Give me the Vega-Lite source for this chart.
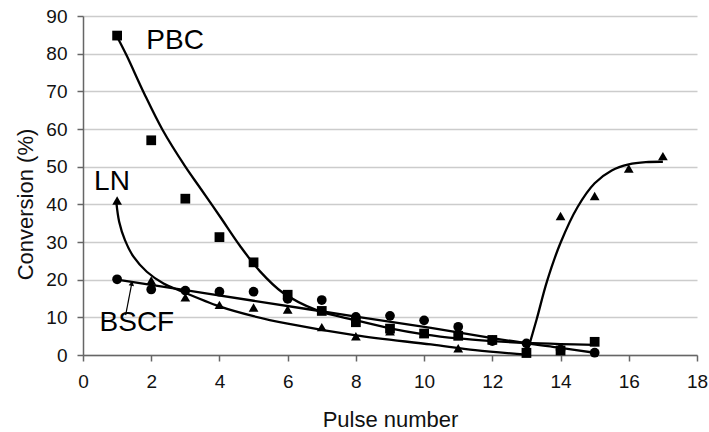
{
  "$schema": "https://vega.github.io/schema/vega-lite/v6.json",
  "width": 614,
  "height": 339,
  "autosize": "none",
  "padding": {"left": 83, "top": 16, "right": 12, "bottom": 77},
  "background": "white",
  "config": {
    "view": {"stroke": null},
    "font": "Liberation Sans"
  },
  "datasets": {
    "curves": [
      {"series": "PBC", "x": 1.0, "y": 84.5},
      {"series": "PBC", "x": 1.28, "y": 79.5},
      {"series": "PBC", "x": 1.79, "y": 69.5},
      {"series": "PBC", "x": 2.33, "y": 59.8},
      {"series": "PBC", "x": 3.0, "y": 50},
      {"series": "PBC", "x": 3.4, "y": 44.8},
      {"series": "PBC", "x": 4.02, "y": 36.7},
      {"series": "PBC", "x": 4.6, "y": 29.0},
      {"series": "PBC", "x": 5.19, "y": 22.2},
      {"series": "PBC", "x": 5.85, "y": 16.6},
      {"series": "PBC", "x": 6.85, "y": 11.9},
      {"series": "PBC", "x": 8.0, "y": 9.2},
      {"series": "PBC", "x": 9.0, "y": 7.1},
      {"series": "PBC", "x": 10.0, "y": 5.5},
      {"series": "PBC", "x": 11.0, "y": 4.4},
      {"series": "PBC", "x": 12.0, "y": 3.7},
      {"series": "PBC", "x": 13.0, "y": 3.2},
      {"series": "PBC", "x": 14.0, "y": 2.9},
      {"series": "PBC", "x": 15.0, "y": 2.7},
      {"series": "BSCF", "x": 1.0, "y": 20.0},
      {"series": "BSCF", "x": 3.0, "y": 17.2},
      {"series": "BSCF", "x": 5.0, "y": 14.4},
      {"series": "BSCF", "x": 8.0, "y": 10.2},
      {"series": "BSCF", "x": 10.2, "y": 7.2},
      {"series": "BSCF", "x": 12.0, "y": 4.5},
      {"series": "BSCF", "x": 13.0, "y": 3.1},
      {"series": "BSCF", "x": 14.0, "y": 1.9},
      {"series": "BSCF", "x": 15.0, "y": 0.6},
      {"series": "LN1", "x": 0.98, "y": 40.3},
      {"series": "LN1", "x": 1.06, "y": 35.4},
      {"series": "LN1", "x": 1.23, "y": 30.5},
      {"series": "LN1", "x": 1.48, "y": 26.1},
      {"series": "LN1", "x": 1.87, "y": 22.1},
      {"series": "LN1", "x": 2.36, "y": 19.0},
      {"series": "LN1", "x": 2.84, "y": 17.1},
      {"series": "LN1", "x": 4.0, "y": 12.9},
      {"series": "LN1", "x": 5.0, "y": 10.3},
      {"series": "LN1", "x": 6.0, "y": 8.3},
      {"series": "LN1", "x": 8.0, "y": 5.2},
      {"series": "LN1", "x": 10.2, "y": 2.8},
      {"series": "LN1", "x": 11.5, "y": 1.3},
      {"series": "LN1", "x": 13.0, "y": 0.1},
      {"series": "LN2", "x": 13.0, "y": 0.1},
      {"series": "LN2", "x": 13.3, "y": 9.5},
      {"series": "LN2", "x": 13.6, "y": 19.5},
      {"series": "LN2", "x": 14.0, "y": 29.8},
      {"series": "LN2", "x": 14.5, "y": 39.3},
      {"series": "LN2", "x": 15.0, "y": 45.6},
      {"series": "LN2", "x": 15.5, "y": 49.0},
      {"series": "LN2", "x": 16.0, "y": 50.6},
      {"series": "LN2", "x": 16.5, "y": 51.2},
      {"series": "LN2", "x": 17.0, "y": 51.3}
    ],
    "points": [
      {"series": "PBC", "x": 1, "y": 84.8},
      {"series": "PBC", "x": 2, "y": 57},
      {"series": "PBC", "x": 3, "y": 41.5},
      {"series": "PBC", "x": 4, "y": 31.3},
      {"series": "PBC", "x": 5, "y": 24.6},
      {"series": "PBC", "x": 6, "y": 16},
      {"series": "PBC", "x": 7, "y": 11.7},
      {"series": "PBC", "x": 8, "y": 8.7},
      {"series": "PBC", "x": 9, "y": 7.0},
      {"series": "PBC", "x": 10, "y": 5.7},
      {"series": "PBC", "x": 11, "y": 5.1},
      {"series": "PBC", "x": 12, "y": 4.0},
      {"series": "PBC", "x": 13, "y": 0.6},
      {"series": "PBC", "x": 14, "y": 1.2},
      {"series": "PBC", "x": 15, "y": 3.5},
      {"series": "LN", "x": 1, "y": 41},
      {"series": "LN", "x": 2, "y": 19.8},
      {"series": "LN", "x": 3, "y": 15.3},
      {"series": "LN", "x": 4, "y": 13.3},
      {"series": "LN", "x": 5, "y": 12.6},
      {"series": "LN", "x": 6, "y": 12.1},
      {"series": "LN", "x": 7, "y": 7.4},
      {"series": "LN", "x": 8, "y": 5.0},
      {"series": "LN", "x": 9, "y": 6.3},
      {"series": "LN", "x": 10, "y": 5.7},
      {"series": "LN", "x": 11, "y": 1.8},
      {"series": "LN", "x": 12, "y": 4.2},
      {"series": "LN", "x": 13, "y": 0.4},
      {"series": "LN", "x": 14, "y": 36.9},
      {"series": "LN", "x": 15, "y": 42.2},
      {"series": "LN", "x": 16, "y": 49.5},
      {"series": "LN", "x": 17, "y": 52.8},
      {"series": "BSCF", "x": 1, "y": 20.1},
      {"series": "BSCF", "x": 2, "y": 17.4},
      {"series": "BSCF", "x": 3, "y": 17.1},
      {"series": "BSCF", "x": 4, "y": 16.8},
      {"series": "BSCF", "x": 5, "y": 16.8},
      {"series": "BSCF", "x": 6, "y": 14.9},
      {"series": "BSCF", "x": 7, "y": 14.6},
      {"series": "BSCF", "x": 8, "y": 10.1},
      {"series": "BSCF", "x": 9, "y": 10.4},
      {"series": "BSCF", "x": 10, "y": 9.2},
      {"series": "BSCF", "x": 11, "y": 7.5},
      {"series": "BSCF", "x": 12, "y": 3.7},
      {"series": "BSCF", "x": 13, "y": 3.1},
      {"series": "BSCF", "x": 14, "y": 1.4},
      {"series": "BSCF", "x": 15, "y": 0.6}
    ],
    "labels": [
      {"label": "PBC", "x": 2.7, "y": 83.4},
      {"label": "LN", "x": 0.85, "y": 45.9},
      {"label": "BSCF", "x": 1.58, "y": 8.5}
    ],
    "arrow": [
      {"x": 1.25, "y": 10.6, "x2": 1.43, "y2": 19.0}
    ]
  },
  "encoding": {
    "x": {
      "field": "x", "type": "quantitative",
      "scale": {"domain": [0, 18], "nice": false, "zero": false},
      "axis": {
        "values": [0, 2, 4, 6, 8, 10, 12, 14, 16, 18],
        "grid": false,
        "title": "Pulse number",
        "domainColor": "#666666", "domainWidth": 1.5,
        "tickColor": "#666666", "tickWidth": 1.5, "tickSize": 6,
        "labelFontSize": 19, "labelColor": "#111111", "labelPadding": 11,
        "labelFlush": false,
        "titleFontSize": 22, "titleFontWeight": "normal", "titleColor": "#111111",
        "titleBaseline": "alphabetic", "titleY": 71
      }
    },
    "y": {
      "field": "y", "type": "quantitative",
      "scale": {"domain": [0, 90], "nice": false, "zero": false},
      "axis": {
        "values": [0, 10, 20, 30, 40, 50, 60, 70, 80, 90],
        "grid": true, "gridColor": "#cccccc", "gridWidth": 1.5,
        "title": "Conversion (%)",
        "domainColor": "#666666", "domainWidth": 1.5,
        "tickColor": "#666666", "tickWidth": 1.5, "tickSize": 6,
        "labelFontSize": 19, "labelColor": "#111111", "labelPadding": 10,
        "labelFlush": false,
        "titleFontSize": 22, "titleFontWeight": "normal", "titleColor": "#111111",
        "titleBaseline": "alphabetic", "titleX": -51, "titleY": 188
      }
    }
  },
  "layer": [
    {
      "data": {"name": "curves"},
      "mark": {"type": "line", "color": "black", "strokeWidth": 2.3, "interpolate": "catmull-rom"},
      "encoding": {"detail": {"field": "series"}}
    },
    {
      "data": {"name": "points"},
      "mark": {"type": "point", "filled": true, "color": "black", "opacity": 1, "size": 95},
      "encoding": {
        "shape": {
          "field": "series", "type": "nominal",
          "scale": {"domain": ["PBC", "LN", "BSCF"], "range": ["square", "triangle-up", "circle"]},
          "legend": null
        }
      }
    },
    {
      "data": {"name": "labels"},
      "mark": {"type": "text", "fontSize": 28, "color": "black", "align": "center", "baseline": "middle", "font": "Liberation Sans"},
      "encoding": {"text": {"field": "label"}}
    },
    {
      "data": {"name": "arrow"},
      "mark": {"type": "rule", "color": "black", "strokeWidth": 1.2},
      "encoding": {"x2": {"field": "x2"}, "y2": {"field": "y2"}}
    },
    {
      "data": {"name": "arrow"},
      "mark": {"type": "point", "shape": "triangle-up", "filled": true, "color": "black", "opacity": 1, "size": 30, "angle": 11},
      "encoding": {"x": {"field": "x2", "type": "quantitative"}, "y": {"field": "y2", "type": "quantitative"}}
    }
  ]
}
